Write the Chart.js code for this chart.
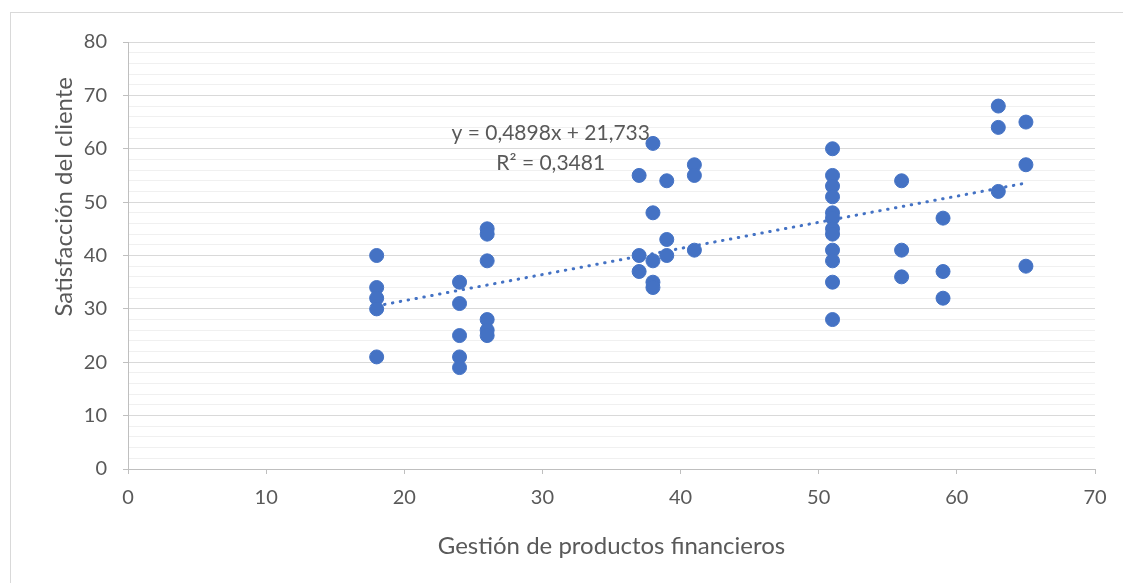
<!DOCTYPE html>
<html lang="es">
<head>
    <meta charset="UTF-8">
    <title>Satisfacción vs Gestión</title>
    <style>
        body, html {
            margin: 0;
            padding: 0;
            background: #fff;
            overflow: hidden;
        }
        #wrap {
            position: absolute;
            left: 0;
            top: 0;
            width: 1123px;
            height: 583px;
        }
    </style>
    <script src="https://cdn.jsdelivr.net/npm/chart.js"></script>
</head>
<body>
    <div id="wrap"><canvas id="scatterChart" width="1123" height="583"></canvas></div>

    <script>
        // data
        const xValues = [
            18, 18, 18, 18, 18,
            24, 24, 24, 24, 24,
            26, 26, 26, 26, 26, 26,
            37, 37, 37,
            38, 38, 38, 38, 38,
            39, 39, 39,
            41, 41, 41,
            51, 51, 51, 51, 51, 51, 51, 51, 51, 51, 51, 51,
            56, 56, 56,
            59, 59, 59,
            63, 63, 63,
            65, 65, 65
        ];
        const yValues = [
            40, 34, 32, 30, 21,
            35, 31, 25, 21, 19,
            45, 44, 39, 28, 26, 25,
            55, 40, 37,
            61, 48, 39, 35, 34,
            54, 43, 40,
            57, 55, 41,
            60, 55, 53, 51, 48, 47, 45, 44, 41, 39, 35, 28,
            54, 41, 36,
            47, 37, 32,
            68, 64, 52,
            65, 57, 38
        ];
        const slope = 0.4898;
        const intercept = 21.733;
        const trendLabels = ['y = 0,4898x + 21,733', 'R² = 0,3481'];
        const xTitle = 'Gestión de productos financieros';
        const yTitle = 'Satisfacción del cliente';

        const FONT = 'Lato, "Open Sans", sans-serif';
        const TEXT = '#595959';

        const points = xValues.map((x, i) => ({ x: x, y: yValues[i] }));
        const xMin = Math.min(...xValues);
        const xMax = Math.max(...xValues);
        const trend = [
            { x: xMin, y: slope * xMin + intercept },
            { x: xMax, y: slope * xMax + intercept }
        ];

        // border around the whole chart, y title, equation text
        const extras = {
            id: 'extras',
            beforeDraw(chart) {
                const c = chart.ctx;
                c.save();
                c.strokeStyle = '#d9d9d9';
                c.lineWidth = 1;
                c.strokeRect(10.5, 12.5, 1300, 700);
                c.restore();
            },
            afterDraw(chart) {
                const c = chart.ctx;
                const xs = chart.scales.x, ys = chart.scales.y;
                c.save();
                c.fillStyle = TEXT;
                c.textAlign = 'center';
                c.textBaseline = 'middle';
                c.font = '21px ' + FONT;
                c.fillText(trendLabels[0], xs.getPixelForValue(30.6), ys.getPixelForValue(62.9));
                c.fillText(trendLabels[1], xs.getPixelForValue(30.6), ys.getPixelForValue(57.3));
                // y axis title, sits a bit above the middle like in the original
                c.translate(64, ys.getPixelForValue(51));
                c.rotate(-Math.PI / 2);
                c.font = '24px ' + FONT;
                c.fillText(yTitle, 0, 0);
                c.restore();
            }
        };

        const ctx = document.getElementById('scatterChart').getContext('2d');
        new Chart(ctx, {
            type: 'scatter',
            data: {
                datasets: [
                    {
                        label: 'Datos',
                        data: points,
                        backgroundColor: '#4472C4',
                        borderColor: '#4472C4',
                        pointRadius: 7,
                        pointHoverRadius: 7
                    },
                    {
                        type: 'line',
                        label: 'Tendencia',
                        data: trend,
                        borderColor: '#4472C4',
                        borderWidth: 3,
                        borderDash: [0.5, 7.5],
                        borderCapStyle: 'round',
                        pointRadius: 0,
                        fill: false
                    }
                ]
            },
            options: {
                responsive: false,
                animation: false,
                layout: { padding: { left: 10, right: 28, top: 42, bottom: 0 } },
                plugins: {
                    legend: { display: false },
                    tooltip: { enabled: false }
                },
                scales: {
                    x: {
                        type: 'linear',
                        min: 0,
                        max: 70,
                        afterFit: (s) => { s.height = 114; },
                        ticks: {
                            stepSize: 10,
                            color: TEXT,
                            font: { family: FONT, size: 20 },
                            padding: 12
                        },
                        grid: {
                            drawOnChartArea: false,
                            tickLength: 5,
                            tickColor: '#bfbfbf'
                        },
                        border: { color: '#bfbfbf' },
                        title: {
                            display: true,
                            text: xTitle,
                            color: TEXT,
                            font: { family: FONT, size: 24 },
                            padding: { top: 10, bottom: 22 }
                        }
                    },
                    y: {
                        min: 0,
                        max: 80,
                        afterFit: (s) => { s.width = 118; },
                        ticks: {
                            stepSize: 2,
                            autoSkip: false,
                            color: TEXT,
                            font: { family: FONT, size: 20 },
                            padding: 16,
                            callback: (v) => (v % 10 === 0 ? v : '')
                        },
                        grid: {
                            tickLength: 5,
                            color: (c) => (c.tick && c.tick.value % 10 === 0 ? '#d9d9d9' : '#f0f0f0'),
                            tickColor: (c) => (c.tick && c.tick.value % 10 === 0 ? '#bfbfbf' : 'rgba(0,0,0,0)'),
                            lineWidth: 1
                        },
                        border: { color: '#bfbfbf' },
                        title: { display: false }
                    }
                }
            },
            plugins: [extras]
        });
    </script>
</body>
</html>
